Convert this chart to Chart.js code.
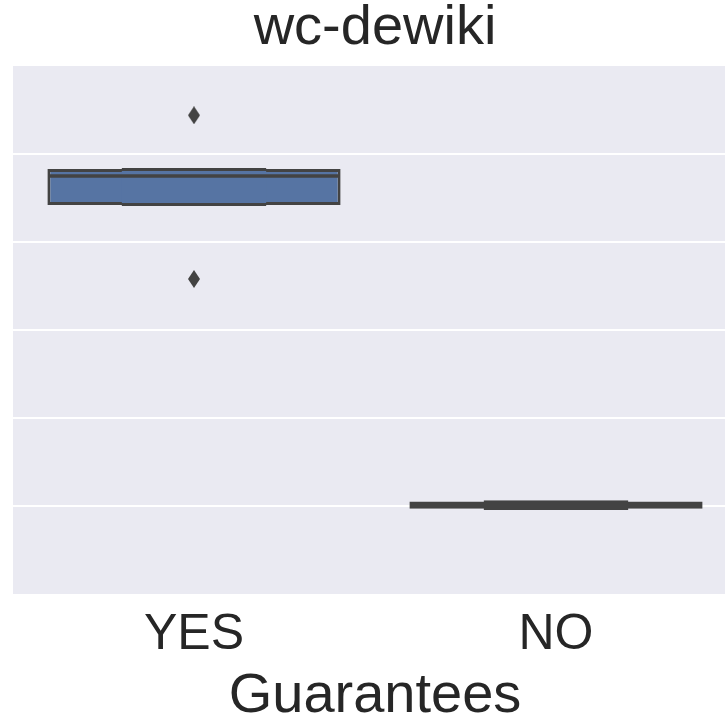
<!DOCTYPE html>
<html>
<head>
<meta charset="utf-8">
<script src="https://cdn.jsdelivr.net/npm/chart.js@4/dist/chart.umd.min.js"></script>
<style>
  html, body { margin: 0; padding: 0; background: #ffffff; overflow: hidden; }
  #wrap { width: 760px; height: 723px; }
</style>
</head>
<body>
<div id="wrap"><canvas id="box-chart" width="760" height="723"></canvas></div>
<script>
// categories and letter-value boxes
var categories = ['YES', 'NO'];
var outerLow = [4.42, 0.97];
var outerHigh = [4.83, 1.05];
var innerLow = [4.41, 0.955];
var innerHigh = [4.84, 1.065];
var medians = [4.75, 1.01];
var outlierCats = ['YES', 'YES'];
var outlierValues = [5.44, 3.58];

var edgeColor = '#434343';
var fillColors = ['#5674a3', edgeColor];
var textColor = '#262626';
var fontFamily = "'Liberation Sans', Arial, sans-serif";

var pairs = function (lo, hi) {
    return lo.map(function (v, i) { return [v, hi[i]]; });
};

// thin diamond marker like matplotlib 'd'
var makeDiamond = function () {
    var c = document.createElement('canvas');
    c.width = 12;
    c.height = 18;
    var g = c.getContext('2d');
    g.fillStyle = edgeColor;
    g.beginPath();
    g.moveTo(6, 0);
    g.lineTo(12, 9);
    g.lineTo(6, 18);
    g.lineTo(0, 9);
    g.closePath();
    g.fill();
    return c;
};

var plotBackground = {
    id: 'plotBackground',
    beforeDraw: function (chart) {
        var a = chart.chartArea;
        var ctx = chart.ctx;
        ctx.save();
        ctx.fillStyle = '#eaeaf2';
        ctx.fillRect(a.left, a.top, a.right - a.left, a.bottom - a.top);
        ctx.restore();
    }
};

var ctx = document.getElementById('box-chart').getContext('2d');
var chart = new Chart(ctx, {
    type: 'bar',
    data: {
        labels: categories,
        datasets: [{
            label: 'outer',
            data: pairs(outerLow, outerHigh),
            backgroundColor: fillColors,
            borderColor: edgeColor,
            borderWidth: 3,
            borderSkipped: false,
            barPercentage: 0.81,
            categoryPercentage: 1,
            grouped: false,
            order: 4
        }, {
            label: 'inner',
            data: pairs(innerLow, innerHigh),
            backgroundColor: fillColors,
            borderColor: edgeColor,
            borderWidth: { top: 3, bottom: 3, left: 0, right: 0 },
            borderSkipped: false,
            barPercentage: 0.4,
            categoryPercentage: 1,
            grouped: false,
            order: 3
        }, {
            label: 'median',
            data: medians.map(function (m) { return [m - 0.02, m + 0.02]; }),
            backgroundColor: edgeColor,
            borderWidth: 0,
            barPercentage: 0.8,
            categoryPercentage: 1,
            grouped: false,
            order: 2
        }, {
            type: 'line',
            label: 'outliers',
            data: outlierCats.map(function (c, i) { return { x: c, y: outlierValues[i] }; }),
            showLine: false,
            pointStyle: makeDiamond(),
            pointRadius: 9,
            order: 1
        }]
    },
    options: {
        responsive: false,
        animation: false,
        layout: { padding: { left: 13, right: 23, top: 0, bottom: 0 } },
        plugins: {
            legend: { display: false },
            tooltip: { enabled: false },
            title: {
                display: true,
                text: 'wc-dewiki',
                color: textColor,
                font: { family: fontFamily, size: 56, weight: 'normal', lineHeight: 1.0 },
                padding: { top: 1, bottom: 9 }
            }
        },
        scales: {
            x: {
                offset: true,
                grid: { display: false, drawTicks: false },
                border: { display: false },
                afterFit: function (scale) { scale.height = 129; },
                ticks: {
                    color: textColor,
                    padding: 11,
                    font: { family: fontFamily, size: 50 }
                },
                title: {
                    display: true,
                    text: 'Guarantees',
                    color: textColor,
                    font: { family: fontFamily, size: 56, lineHeight: 1.0 },
                    padding: { top: 0, bottom: -2 }
                }
            },
            y: {
                min: 0,
                max: 6,
                ticks: { display: false, stepSize: 1 },
                border: { display: false },
                grid: {
                    drawTicks: false,
                    lineWidth: 2,
                    color: function (c) {
                        return (c.tick && c.tick.value > 0 && c.tick.value < 6) ? '#ffffff' : 'rgba(0,0,0,0)';
                    }
                }
            }
        }
    },
    plugins: [plotBackground]
});
</script>
</body>
</html>
